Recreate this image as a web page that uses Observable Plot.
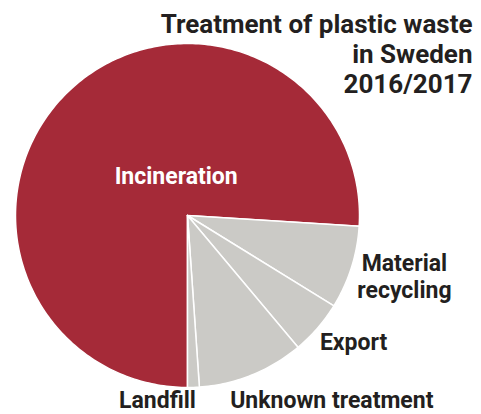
<!DOCTYPE html>
<html>
<head>
<meta charset="utf-8">
<script src="https://cdn.jsdelivr.net/npm/d3@7"></script>
<script src="https://cdn.jsdelivr.net/npm/@observablehq/plot@0.6"></script>
<style>
  html, body { margin: 0; padding: 0; background: #fff; }
  #chart svg { display: block; }
</style>
</head>
<body>
<div id="chart"></div>
<script>
// Data (share of plastic waste, %)
const categories = ["Incineration", "Material recycling", "Export", "Unknown treatment", "Landfill"];
const shares = [76.0, 7.8, 5.1, 10.0, 1.1];
const labels = ["Incineration", "Material\nrecycling", "Export", "Unknown treatment", "Landfill"];
const title = "Treatment of plastic waste\nin Sweden\n2016/2017";

const sliceColors = ["#A52A38", "#CBCAC6", "#CBCAC6", "#CBCAC6", "#CBCAC6"];
const ink = "#231F20";
const font = "Roboto, 'Liberation Sans', sans-serif";

// Pie layout (clockwise from 12 o'clock, starting at 6 o'clock)
const rows = categories.map((c, i) => ({category: c, share: shares[i], label: labels[i]}));
const arcs = d3.pie().sort(null).value(d => d.share).startAngle(Math.PI).endAngle(3 * Math.PI)(rows);

// Polygon outline of each slice in unit-radius coordinates
const outline = [];
for (const a of arcs) {
  const n = Math.max(2, Math.ceil((a.endAngle - a.startAngle) / (Math.PI / 180)));
  outline.push({category: a.data.category, x: 0, y: 0});
  for (let k = 0; k <= n; ++k) {
    const t = a.startAngle + (a.endAngle - a.startAngle) * k / n;
    outline.push({category: a.data.category, x: Math.sin(t), y: Math.cos(t)});
  }
  outline.push({category: a.data.category, x: 0, y: 0});
}

const arcOf = c => arcs.find(a => a.data.category === c);
const midX = (a, r) => r * Math.sin((a.startAngle + a.endAngle) / 2);
const midY = (a, r) => r * Math.cos((a.startAngle + a.endAngle) / 2);

function label(cat, r, opts) {
  return Plot.text([arcOf(cat)], {
    x: a => midX(a, r),
    y: a => midY(a, r),
    text: a => a.data.label,
    fontFamily: font,
    fontWeight: "bold",
    fontSize: 23,
    fill: ink,
    lineHeight: 1.18,
    ...opts
  });
}

const W = 481, H = 414, cx = 187, cy = 215, R = 172;

const chart = Plot.plot({
  width: W,
  height: H,
  margin: 0,
  x: {axis: null, domain: [-cx / R, (W - cx) / R], range: [0, W]},
  y: {axis: null, domain: [-(H - cy) / R, cy / R], range: [H, 0]},
  color: {domain: categories, range: sliceColors},
  style: {background: "#fff", overflow: "visible"},
  marks: [
    Plot.line(outline, {x: "x", y: "y", z: "category", fill: "category", stroke: "#fff", strokeWidth: 1.5, curve: "linear", strokeLinejoin: "round"}),
    label("Incineration", 0.3, {fill: "#fff", dx: 24, dy: -3}),
    label("Material recycling", 1, {dx: 53, dy: 8}),
    label("Export", 1, {dx: 36, dy: 13}),
    label("Unknown treatment", 1, {dx: 80, dy: 24}),
    label("Landfill", 1, {dx: -36, dy: 12}),
    Plot.text([title], {
      frameAnchor: "top-right",
      text: d => d,
      lineAnchor: "top",
      textAnchor: "end",
      lineHeight: 1.15,
      fontFamily: font,
      fontWeight: "bold",
      fontSize: 26,
      fill: ink,
      dx: -9,
      dy: 11
    })
  ]
});
document.getElementById("chart").appendChild(chart);
</script>
</body>
</html>
